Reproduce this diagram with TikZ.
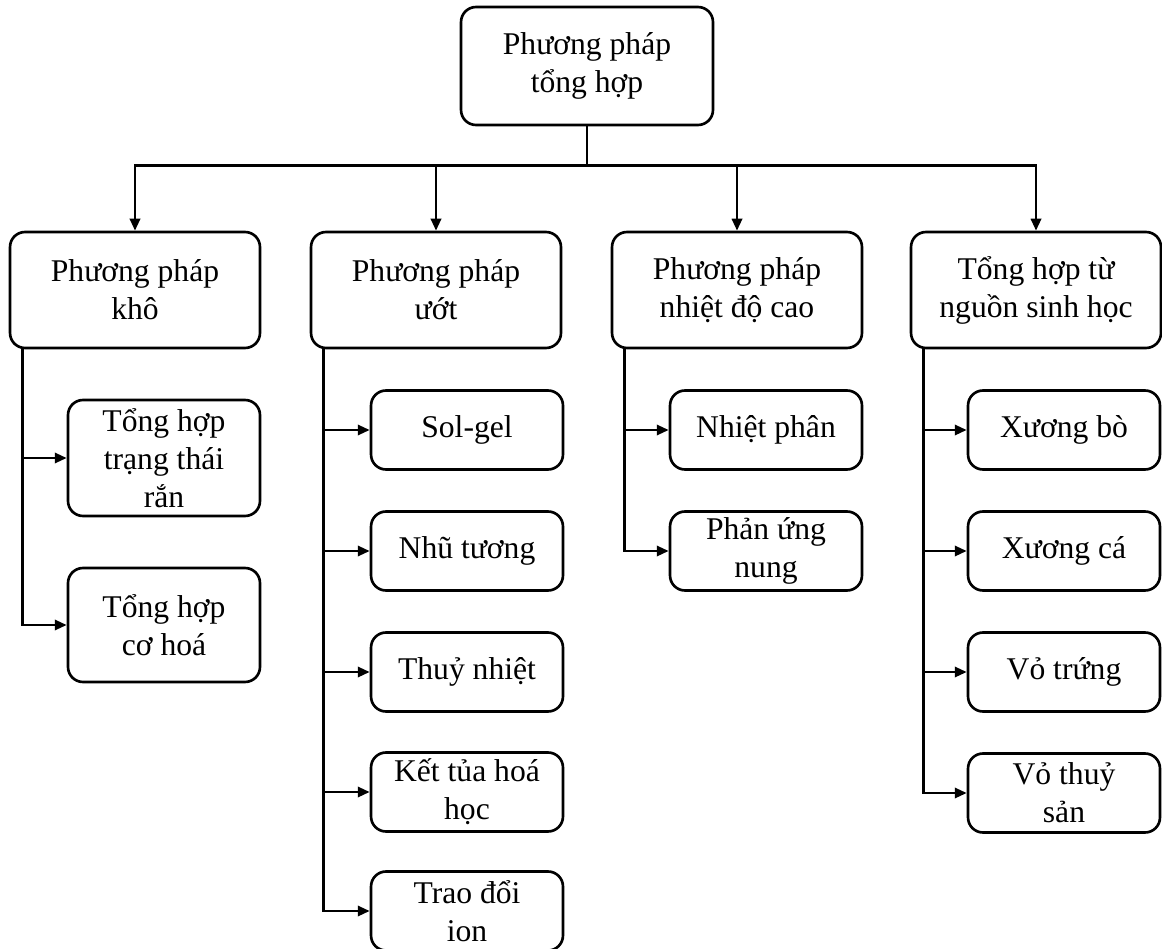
\documentclass[tikz,border=0pt]{standalone}
\usepackage{fontspec}
\setmainfont{Liberation Serif}
\usetikzlibrary{arrows.meta}
\begin{document}
\begin{tikzpicture}[x=0.02cm,y=-0.02cm,
  hop/.style={draw,line width=1.5pt,rounded corners=0.3cm,align=center,inner sep=0pt,font=\fontsize{18}{21.6}\selectfont},
  cap1/.style={hop,minimum width=5cm,minimum height=2.32cm},
  cap2/.style={hop,minimum width=3.84cm,minimum height=1.58cm},
  noi/.style={line width=1.5pt,line cap=rect},
  ten/.style={line width=1.5pt,-{Triangle[length=6.8pt,width=5.8pt]}}]
\useasboundingbox (0,0) rectangle (1162,949);
\node[hop,minimum width=5.04cm,minimum height=2.36cm] (goc) at (587,66) {Phương pháp\\tổng hợp};
\node[cap1] (kho) at (135,290) {Phương pháp\\khô};
\node[cap1] (uot) at (436,290) {Phương pháp\\ướt};
\node[cap1] (nhiet) at (737,290) {Phương pháp\\nhiệt độ cao};
\node[cap1] (sinh) at (1036,290) {Tổng hợp từ\\nguồn sinh học};
\node[cap2,minimum height=2.32cm] (ran) at (164,458) {Tổng hợp\\trạng thái\\rắn};
\node[cap2,minimum height=2.28cm] (coh) at (164,625) {Tổng hợp\\cơ hoá};
\node[cap2] (solgel) at (467,430) {Sol-gel};
\node[cap2] (nhu) at (467,551) {Nhũ tương};
\node[cap2] (thuy) at (467,672) {Thuỷ nhiệt};
\node[cap2] (kettua) at (467,792) {Kết tủa hoá\\học};
\node[cap2] (ion) at (467,911) {Trao đổi\\ion};
\node[cap2] (nhietphan) at (766,430) {Nhiệt phân};
\node[cap2] (nung) at (766,551) {Phản ứng\\nung};
\node[cap2] (bo) at (1064,430) {Xương bò};
\node[cap2] (ca) at (1064,551) {Xương cá};
\node[cap2] (trung) at (1064,672) {Vỏ trứng};
\node[cap2] (thuysan) at (1064,793) {Vỏ thuỷ\\sản};
\coordinate (nhanh) at ([yshift=-0.78cm]goc.south);
\draw[noi] (goc.south) -- (nhanh) (nhanh -| kho) -- (nhanh -| sinh);
\foreach \k in {kho,uot,nhiet,sinh} \draw[ten] (nhanh -| \k) -- (\k.north);
\foreach \k/\ds in {kho/{ran,coh},uot/{solgel,nhu,thuy,kettua,ion},nhiet/{nhietphan,nung},sinh/{bo,ca,trung,thuysan}}{
  \coordinate (g) at ([xshift=0.28cm]\k.south west);
  \foreach \d in \ds {
    \draw[noi] (g) -- (g |- \d.west);
    \draw[ten] (g |- \d.west) -- (\d.west);
  }
}
\end{tikzpicture}
\end{document}
